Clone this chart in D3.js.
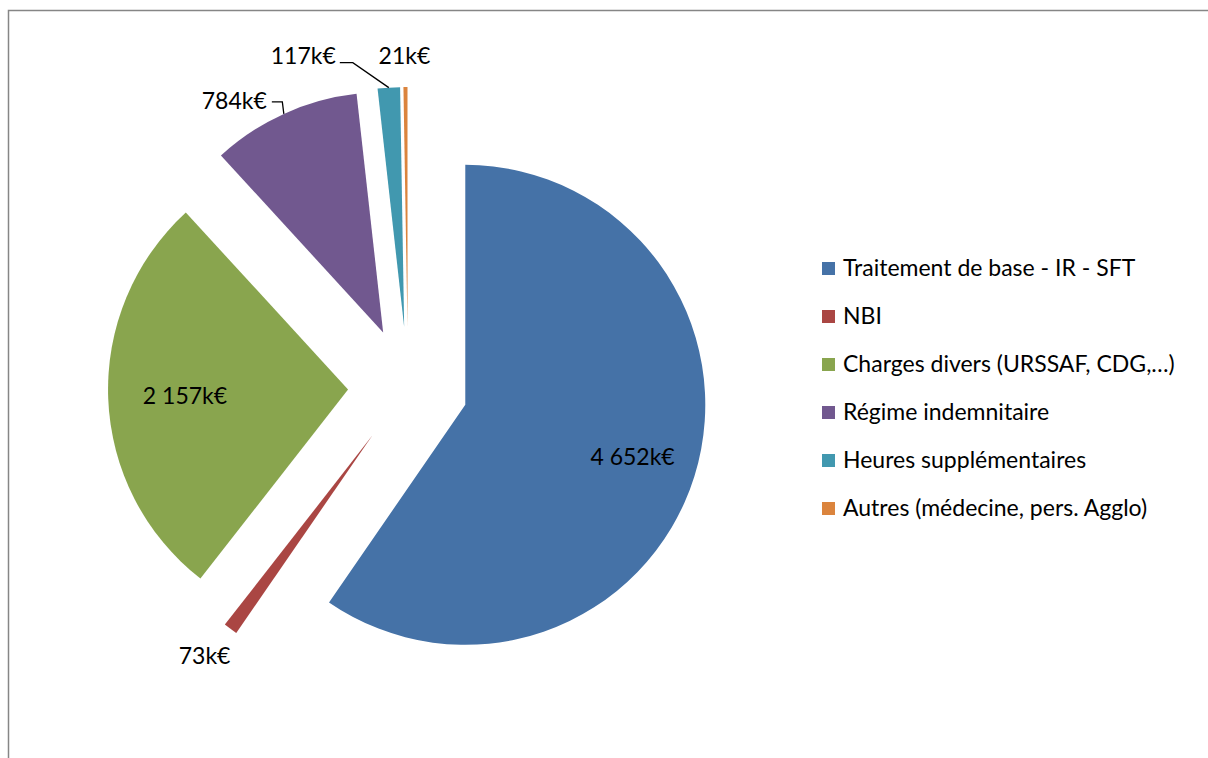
<!DOCTYPE html>
<html><head><meta charset="utf-8">
<script src="https://cdn.jsdelivr.net/npm/d3@7"></script>
<style>
html,body{margin:0;padding:0;background:#fff;}
svg{display:block;font-family:Lato, "Open Sans", sans-serif;}
</style></head>
<body>
<svg id="chart" width="1208" height="758"></svg>
<script>
const categories = ["Traitement de base - IR - SFT","NBI","Charges divers (URSSAF, CDG,…)","Régime indemnitaire","Heures supplémentaires","Autres (médecine, pers. Agglo)"];
const values = [4652, 73, 2157, 784, 117, 21];
const valueLabels = ["4 652k€","73k€","2 157k€","784k€","117k€","21k€"];
const colors = ["#4572A7","#AA4643","#89A54E","#71588F","#4198AF","#DB843D"];

const svg = d3.select("#chart");
const W = 1208, H = 758;

// chart border
svg.append("path").attr("d", `M${W+2},10.5 H8.5 V${H+2}`)
  .attr("fill","none").attr("stroke","#868686").attr("stroke-width",1.5);

const cx = 408, cy = 387, R = 240, explode = 60;
const pie = d3.pie().sort(null).value(d => d).startAngle(0).endAngle(2*Math.PI);
const arcs = pie(values);
const arc = d3.arc().innerRadius(0).outerRadius(R);
const dir = a => [Math.sin(a), -Math.cos(a)];

const g = svg.append("g").attr("transform", `translate(${cx},${cy})`);
arcs.forEach((d,i) => {
  const m = (d.startAngle + d.endAngle)/2;
  const [ux, uy] = dir(m);
  d.ox = ux*explode; d.oy = uy*explode; d.mid = m;
  g.append("path").attr("d", arc(d)).attr("fill", colors[i])
    .attr("transform", `translate(${d.ox},${d.oy})`);
});

// labels
const FS = 23;
const lab = svg.append("g").attr("font-size", FS).attr("fill","#000");
function pointAt(d, r){ const [ux,uy]=dir(d.mid); return [cx+d.ox+ux*r, cy+d.oy+uy*r]; }

// inside labels
[[0,0.73],[2,0.68]].forEach(([i,f])=>{
  const [x,y] = pointAt(arcs[i], R*f);
  lab.append("text").attr("x",x).attr("y",y).attr("dy","0.35em").attr("text-anchor","middle").text(valueLabels[i]);
});
// NBI outside
{ const [x,y] = pointAt(arcs[1], R*1.14);
  lab.append("text").attr("x",x-6).attr("y",y).attr("dy","0.35em").attr("text-anchor","middle").text(valueLabels[1]); }

// Régime indemnitaire with leader
{ const [px,py] = pointAt(arcs[3], R);
  svg.append("path").attr("d", `M${px},${py} L${px-1.5},${py-12} L${px-12},${py-12}`)
    .attr("fill","none").attr("stroke","#000").attr("stroke-width",1.3);
  lab.append("text").attr("x",px-17).attr("y",py-12).attr("dy","0.3em").attr("text-anchor","end").text(valueLabels[3]); }

// Heures supplémentaires with leader
{ const [px,py] = pointAt(arcs[4], R);
  svg.append("path").attr("d", `M${px},${py} L${px-36},${py-25} L${px-49},${py-25}`)
    .attr("fill","none").attr("stroke","#000").attr("stroke-width",1.3);
  lab.append("text").attr("x",px-53).attr("y",py-25).attr("dy","0.05em").attr("text-anchor","end").text(valueLabels[4]); }

// Autres
{ const [px,py] = pointAt(arcs[5], R);
  lab.append("text").attr("x",px-1).attr("y",py-23).attr("text-anchor","middle").text(valueLabels[5]); }

// legend
const leg = svg.append("g").attr("transform","translate(822,262)");
categories.forEach((c,i)=>{
  const row = leg.append("g").attr("transform",`translate(0,${i*48})`);
  row.append("rect").attr("width",13).attr("height",13).attr("fill",colors[i]);
  row.append("text").attr("x",21).attr("y",13.5).attr("font-size",FS).attr("fill","#000").text(c);
});
</script>
</body></html>
